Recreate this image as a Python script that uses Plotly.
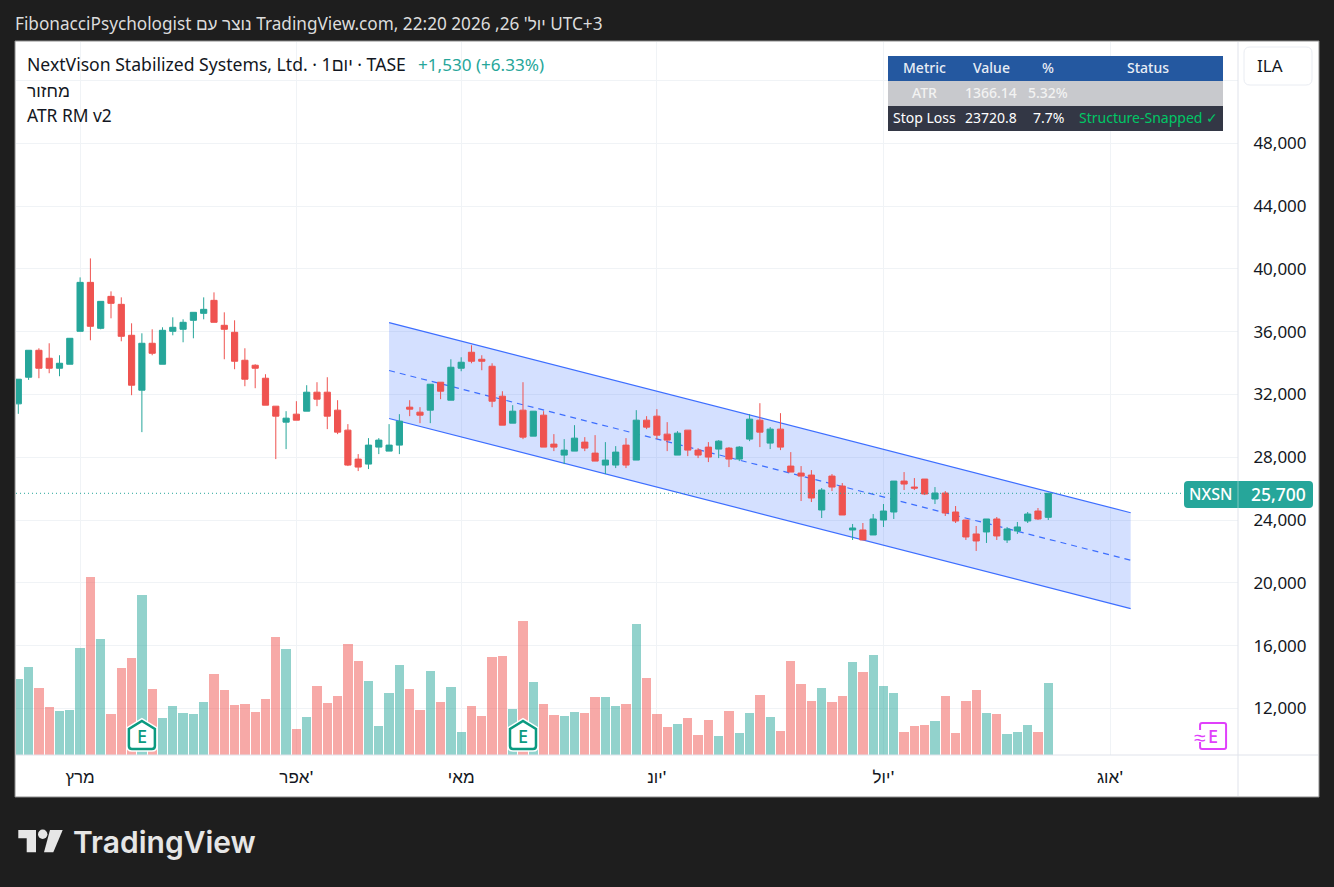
import plotly.graph_objects as go

W, H = 1334, 887
FONT = "Noto Sans, Liberation Sans, sans-serif"

UP = "#26a69a"
DOWN = "#ef5350"
TEXT = "#131722"
PINK = "#e040fb"
EARN = "#0b9a80"

# ─── Data ─────────────────────────────────────────────────────────────────────

opens = [
    31399, 33095, 34812, 34303, 33667, 33922, 36020, 39137, 36211, 38246,
    37738, 35766, 32268, 35257, 33922, 36020, 36148, 36720, 37165, 37992,
    36402, 35957, 34176, 33858, 33031, 31250, 30233, 30742, 30932, 32141,
    32141, 30996, 29724, 27880, 27562, 28643, 28388, 28770, 31187, 30869,
    30996, 32777, 31632, 33667, 34685, 34240, 33794, 31886, 30169, 30996,
    29342, 30678, 28834, 28134, 28388, 28961, 28261, 27498, 27498, 28770,
    27816, 30360, 30614, 29470, 28134, 29724, 28452, 28643, 28516, 28579,
    27880, 29152, 30360, 28897, 29788, 27434, 26989, 26862, 24636, 26798,
    26162, 23364, 23364, 23046, 24000, 24509, 26480, 26099, 26608, 25336,
    25717, 24509, 24000, 23110, 23237, 24064, 22728, 23300, 23936, 24572,
    24170,
]
highs = [
    32968, 34812, 34939, 35257, 34494, 35575, 39455, 40663, 37928, 38564,
    38183, 36529, 35893, 36148, 36275, 36911, 36784, 37229, 38183, 38501,
    37229, 36720, 34939, 33922, 33286, 31250, 30932, 31568, 32586, 32777,
    33095, 31632, 30106, 28198, 29215, 29215, 30106, 30742, 31632, 31187,
    32650, 32777, 34240, 34367, 35130, 34494, 33985, 32204, 31314, 32777,
    30932, 30932, 29470, 29152, 30042, 29279, 29406, 28961, 28706, 29215,
    30996, 30614, 31059, 30233, 29660, 29724, 28579, 28961, 29088, 28643,
    28706, 30742, 31441, 29915, 30805, 28325, 27434, 27180, 26035, 26926,
    26353, 23746, 23809, 24382, 25018, 26480, 27053, 26671, 26608, 26099,
    25844, 24890, 24000, 23618, 24064, 24191, 23555, 23873, 24509, 24763,
    25700,
]
lows = [
    30763, 32925, 33031, 33349, 33158, 33922, 36020, 35448, 36148, 36847,
    35384, 31950, 29597, 34494, 33922, 35766, 35321, 35575, 36784, 36593,
    34240, 33604, 32522, 32395, 31314, 27880, 28516, 30360, 30932, 31250,
    29788, 29470, 27434, 27116, 27244, 28198, 28388, 28198, 30614, 30169,
    30169, 31696, 31632, 33476, 33985, 33540, 31187, 30042, 30169, 29152,
    29342, 28643, 28388, 27562, 28388, 28388, 27752, 26926, 27307, 27307,
    27816, 29788, 29152, 28388, 28134, 28070, 27943, 27689, 27943, 27371,
    27752, 29024, 28643, 28516, 28452, 27053, 25208, 25145, 24127, 25844,
    24318, 22728, 22728, 23046, 23555, 24064, 25908, 25908, 25590, 25018,
    24254, 23809, 22728, 22028, 22537, 22728, 22537, 23110, 23809, 24000,
    24000,
]
closes = [
    32968, 34812, 33667, 33667, 33985, 35575, 39137, 36338, 37928, 37801,
    35702, 32586, 35257, 34621, 36084, 36275, 36593, 37229, 37420, 36593,
    36148, 34112, 32968, 33667, 31314, 30614, 30487, 30360, 32141, 31696,
    30614, 29597, 27498, 27371, 28770, 29088, 28770, 30296, 31059, 30678,
    32650, 32204, 33731, 34049, 34112, 34112, 31568, 30042, 30932, 29279,
    30932, 28643, 28643, 28452, 29215, 28579, 27752, 27816, 28325, 27498,
    30360, 29915, 29406, 29088, 29533, 28452, 28134, 28007, 29024, 27880,
    28643, 30424, 29597, 29788, 28643, 27053, 26798, 25399, 25908, 26099,
    24318, 23491, 22728, 24064, 24572, 26480, 26290, 26035, 25654, 25717,
    24445, 23936, 22919, 22664, 24064, 22982, 23428, 23555, 24382, 24064,
    25700,
]
volumes = [
    76, 88, 67, 48, 44, 45, 107, 178, 116, 41,
    87, 97, 160, 66, 37, 49, 42, 41, 53, 81,
    65, 50, 51, 43, 56, 118, 106, 26, 38, 69,
    52, 59, 111, 94, 74, 29, 62, 90, 66, 45,
    84, 53, 68, 23, 49, 39, 98, 99, 46, 134,
    73, 51, 40, 39, 43, 42, 58, 58, 49, 51,
    131, 77, 41, 28, 31, 37, 20, 35, 19, 44,
    22, 42, 60, 38, 24, 94, 71, 54, 67, 53,
    59, 93, 83, 100, 69, 62, 23, 29, 30, 34,
    59, 22, 54, 65, 42, 41, 21, 23, 30, 23,
    72,
]
bars = list(range(len(closes)))

channel_x = [36, 108]
channel_top = [36574, 24464]
channel_mid = [33521, 21437]
channel_bottom = [30468, 18359]

month_ticks = [6, 27, 43, 62, 84, 106]
month_labels = ["מרץ", "אפר'", "מאי", "יונ'", "יול'", "אוג'"]

price_ticks = [12000, 16000, 20000, 24000, 28000, 32000, 36000, 40000, 44000, 48000, 52000]
price_labels = ["12,000", "16,000", "20,000", "24,000", "28,000", "32,000", "36,000",
                "40,000", "44,000", "48,000", ""]

last_price = 25700
earnings_bars = [12, 49]
upcoming_earnings_bar = 116

table_columns = ["Metric", "Value", "%", "Status"]
table_atr = ["ATR", "1366.14", "5.32%", ""]
table_stop = ["Stop Loss", "23720.8", "7.7%", "Structure-Snapped ✓"]


# ─── Helpers ──────────────────────────────────────────────────────────────────

def px(x):
    return x / W


def py(y):
    return 1 - y / H


def rect(x0, y0, x1, y1, fill, line="rgba(0,0,0,0)", layer="below", width=1):
    return dict(type="rect", xref="paper", yref="paper", x0=px(x0), x1=px(x1), y0=py(y0), y1=py(y1),
                fillcolor=fill, line=dict(color=line, width=width), layer=layer)


def hline(x0, x1, y, color):
    return dict(type="line", xref="paper", yref="paper", x0=px(x0), x1=px(x1), y0=py(y), y1=py(y),
                line=dict(color=color, width=1), layer="above")


def vline(x, y0, y1, color):
    return dict(type="line", xref="paper", yref="paper", x0=px(x), x1=px(x), y0=py(y0), y1=py(y1),
                line=dict(color=color, width=1), layer="above")


def round_rect(x0, y0, x1, y1, r, fill, line="rgba(0,0,0,0)", width=0, layer="above"):
    X0, X1, Y0, Y1 = px(x0), px(x1), py(y0), py(y1)
    rx, ry = r / W, r / H
    path = (
        f"M{X0 + rx},{Y0} L{X1 - rx},{Y0} Q{X1},{Y0} {X1},{Y0 - ry} "
        f"L{X1},{Y1 + ry} Q{X1},{Y1} {X1 - rx},{Y1} "
        f"L{X0 + rx},{Y1} Q{X0},{Y1} {X0},{Y1 + ry} "
        f"L{X0},{Y0 - ry} Q{X0},{Y0} {X0 + rx},{Y0} Z"
    )
    return dict(type="path", xref="paper", yref="paper", path=path, fillcolor=fill,
                line=dict(color=line, width=width), layer=layer)


def polygon(points, fill):
    path = "M" + " L".join(f"{px(x)},{py(y)}" for x, y in points) + " Z"
    return dict(type="path", xref="paper", yref="paper", path=path, fillcolor=fill,
                line=dict(width=0), layer="above")


def label(x, y, text, size=15, color=TEXT, anchor="center", font=FONT, weight=400):
    return dict(xref="paper", yref="paper", x=px(x), y=py(y), text=text, showarrow=False,
                xanchor=anchor, yanchor="middle", align="left",
                font=dict(family=font, size=size, color=color, weight=weight))


# ─── Figure ───────────────────────────────────────────────────────────────────

fig = go.Figure()

fig.add_trace(go.Candlestick(
    x=bars, open=opens, high=highs, low=lows, close=closes,
    increasing=dict(line=dict(color=UP, width=1), fillcolor=UP),
    decreasing=dict(line=dict(color=DOWN, width=1), fillcolor=DOWN),
    showlegend=False,
))

vol_colors = ["rgba(38,166,154,0.5)" if c >= o else "rgba(239,83,80,0.5)" for o, c in zip(opens, closes)]
fig.add_trace(go.Bar(
    x=bars, y=volumes, yaxis="y2", width=0.9, marker=dict(color=vol_colors, line=dict(width=0)),
    showlegend=False,
))

fig.add_trace(go.Scatter(
    x=[-1, 119], y=[last_price, last_price], mode="lines",
    line=dict(color=UP, width=1, dash="1px,3px"), hoverinfo="skip", showlegend=False,
))

# Cadre, échelle de prix, étiquettes
shapes = [
    rect(15, 41, 1319, 797, "#ffffff", line="#8c8c8c"),
    vline(1238, 42, 796, "#e0e3eb"),
    hline(16, 1318, 755, "#e0e3eb"),
]

# Canal : sous les bougies, au-dessus de la grille
channel_path = (
    f"M{channel_x[0]},{channel_top[0]} L{channel_x[1]},{channel_top[1]} "
    f"L{channel_x[1]},{channel_bottom[1]} L{channel_x[0]},{channel_bottom[0]} Z"
)
shapes.append(dict(type="path", xref="x", yref="y", path=channel_path, fillcolor="rgba(41,98,255,0.2)",
                   line=dict(width=0), layer="between"))
for band, dash in ((channel_top, "solid"), (channel_mid, "6px,5px"), (channel_bottom, "solid")):
    shapes.append(dict(type="line", xref="x", yref="y", x0=channel_x[0], x1=channel_x[1], y0=band[0], y1=band[1],
                       line=dict(color="#3d6eff", width=1.2, dash=dash), layer="between"))

# Table ATR
shapes += [
    rect(888, 56, 1223, 81, "#2458a0", layer="above"),
    rect(888, 81, 1223, 106, "#c8c9cd", layer="above"),
    rect(888, 106, 1223, 131, "#333745", layer="above"),
]

# Bouton devise
shapes.append(round_rect(1244, 47, 1312, 85, 6, "#ffffff", line="#e9ecf2", width=1))

# Étiquette du dernier prix
shapes.append(round_rect(1184, 481, 1313, 508, 4, UP))
shapes.append(vline(1238, 481, 508, "#7cc9c1"))

# Marqueurs earnings
house = "M-13,4 Q-13,1 -10,1 L10,1 Q13,1 13,4 L13,21 L0,29 L-13,21 Z"
for bar in earnings_bars:
    for color, width in (("#ffffff", 5.5), (EARN, 2.5)):
        shapes.append(dict(
            type="path", xref="x", yref="paper", xsizemode="pixel", ysizemode="pixel",
            xanchor=bar, yanchor=py(750), path=house, fillcolor="#ffffff",
            line=dict(color=color, width=width), layer="above",
        ))

badge = "M-11,1 L11,1 Q13,1 13,3 L13,25 Q13,27 11,27 L-11,27 Q-13,27 -13,25 L-13,3 Q-13,1 -11,1 Z"
shapes.append(dict(
    type="path", xref="x", yref="paper", xsizemode="pixel", ysizemode="pixel",
    xanchor=upcoming_earnings_bar, yanchor=py(750), path=badge,
    fillcolor="#ffffff", line=dict(color=PINK, width=2), layer="above",
))
# Trou dans le bord gauche du badge, derrière le signe ≈
shapes.append(dict(
    type="rect", xref="x", yref="paper", xsizemode="pixel", ysizemode="pixel",
    xanchor=upcoming_earnings_bar, yanchor=py(750), x0=-18, x1=-8, y0=8, y1=20,
    fillcolor="#ffffff", line=dict(width=0), layer="above",
))

# Logo
shapes += [
    polygon([(18.3, 830), (36, 830), (36, 852.3), (26.7, 852.3), (26.7, 838.3), (18.3, 838.3)], "#e6e6e6"),
    dict(type="circle", xref="paper", yref="paper", x0=px(38), x1=px(47.4), y0=py(829.6), y1=py(839),
         fillcolor="#e6e6e6", line=dict(width=0), layer="above"),
    polygon([(50, 830), (62.7, 830), (53.3, 852.3), (44, 852.3)], "#e6e6e6"),
]

annotations = [
    label(13, 23, "FibonacciPsychologist נוצר עם TradingView.com, 22:20 2026 ,26 יול'\u200f UTC+3",
          size=17.2, color="#dcdcdc", anchor="left"),
    label(25, 64, "NextVison Stabilized Systems, Ltd. · 1יום · TASE", size=17.6, anchor="left"),
    label(416, 64, "+1,530 (+6.33%)", size=17.1, color=UP, anchor="left"),
    label(25, 90, "מחזור", size=17.4, anchor="left"),
    label(25, 115, "ATR RM v2", size=17.4, anchor="left"),
    label(1270, 66, "ILA", size=17),
    label(1210, 494, "NXSN", size=16, color="#ffffff", weight=500),
    label(1278.5, 494, f"{last_price:,}", size=17.5, color="#ffffff", weight=500),
    label(71, 842, "TradingView", size=30, color="#e6e6e6", anchor="left", font="Inter, Noto Sans", weight=600),
]

col_x = [924, 991, 1048, 1148]
for x, head, atr, stop in zip(col_x, table_columns, table_atr, table_stop):
    annotations.append(label(x, 67.5, head, size=14, color="#e8edf5", weight=500))
    if atr:
        annotations.append(label(x, 92.5, atr, size=14, color="#f2f2f2", weight=500))
    stop_color = "#00c765" if stop.startswith("Structure") else "#ffffff"
    annotations.append(label(x, 118, stop, size=14, color=stop_color))

for bar in earnings_bars:
    annotations.append(dict(
        xref="x", yref="paper", x=bar, y=py(736), text="E", showarrow=False, yanchor="middle",
        font=dict(family=FONT, size=18, color=EARN, weight=500),
    ))
annotations.append(dict(
    xref="x", yref="paper", x=upcoming_earnings_bar, y=py(736), text="E", showarrow=False, yanchor="middle",
    font=dict(family=FONT, size=18, color=PINK, weight=500),
))
annotations.append(dict(
    xref="x", yref="paper", x=upcoming_earnings_bar, xshift=-13.5, y=py(737), text="≈", showarrow=False,
    yanchor="middle",
    font=dict(family=FONT, size=21, color=PINK),
))

fig.update_layout(
    width=W, height=H,
    margin=dict(l=0, r=0, t=0, b=0),
    paper_bgcolor="#1e1e1e",
    plot_bgcolor="rgba(0,0,0,0)",
    font=dict(family=FONT, color=TEXT),
    boxgap=0.4,
    boxgroupgap=0,
    bargap=0,
    showlegend=False,
    xaxis=dict(
        domain=[px(16), px(1238)],
        range=[-0.223, 118.42],
        tickmode="array", tickvals=month_ticks, ticktext=month_labels,
        tickfont=dict(size=17, color=TEXT, family=FONT, weight=500),
        ticks="outside", ticklen=7, tickcolor="rgba(0,0,0,0)",
        showgrid=True, gridcolor="#f0f3f6", gridwidth=1,
        zeroline=False, showline=False,
        rangeslider=dict(visible=False),
        anchor="y",
    ),
    yaxis=dict(
        domain=[py(755), py(42)],
        range=[9030, 54449],
        side="right",
        tickmode="array", tickvals=price_ticks, ticktext=price_labels,
        tickfont=dict(size=17, color=TEXT, family=FONT),
        ticks="outside", ticklen=11, tickcolor="rgba(0,0,0,0)",
        showgrid=True, gridcolor="#f0f3f6", gridwidth=1,
        zeroline=False, showline=False,
    ),
    yaxis2=dict(
        domain=[py(755), py(42)],
        overlaying="y", range=[0, 713], visible=False, showgrid=False, zeroline=False,
    ),
    shapes=shapes,
    annotations=annotations,
)

fig.write_html(
    "out.html",
    config=dict(displayModeBar=False),
    post_script="document.body.style.margin='0';document.body.style.background='#1e1e1e';document.documentElement.style.overflow='hidden';",
)
